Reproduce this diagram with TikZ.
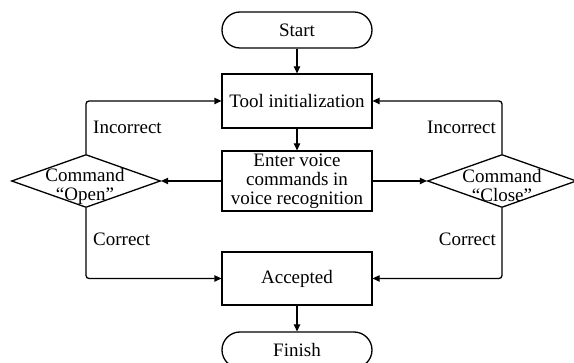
\documentclass[tikz,border=0pt]{standalone}
\usepackage{fontspec}
\setmainfont{Liberation Serif}
\usetikzlibrary{shapes.geometric,arrows.meta}
\begin{document}
\begin{tikzpicture}[x=1pt,y=-1pt,
  every node/.style={font=\fontsize{19}{19}\selectfont},
  box/.style={draw,line width=1.3pt,minimum width=150pt,inner sep=0pt,align=center},
  term/.style={box,rounded corners=18pt,minimum height=36pt},
  dia/.style={draw,diamond,line width=1.3pt,minimum width=149pt,minimum height=53pt,inner sep=0pt},
  dtext/.style={align=center,inner sep=0pt},
  lbl/.style={inner sep=0pt},
  conn/.style={line width=1.3pt,-{Triangle[length=7pt,width=6.5pt]}},
  loop/.style={conn,rounded corners=3pt}]
\useasboundingbox (0,0) rectangle (574,363);
\node[term] (start) at (297,30) {Start};
\node[box,minimum height=54pt] (tool) at (297,101) {Tool initialization};
\node[box,minimum height=60pt] (enter) at (297,181) {Enter voice\\commands in\\voice recognition};
\node[box,minimum height=53pt] (acc) at (297,278.5) {Accepted};
\node[term] (finish) at (297,350) {Finish};
\node[dia] (open) at (86,181) {};
\node[dia] (close) at (502,181) {};
\node[dtext] (opentxt) at (85,186) {Command\\“Open”};
\node[dtext] (closetxt) at (502,186) {Command\\“Close”};
\node[lbl,anchor=west] (inc1) at (93,127) {Incorrect};
\node[lbl,anchor=east] (inc2) at (496,127) {Incorrect};
\node[lbl,anchor=west] (cor1) at (93,239) {Correct};
\node[lbl,anchor=east] (cor2) at (496,239) {Correct};
\draw[conn] (start) -- (tool);
\draw[conn] (tool) -- (enter);
\draw[conn] (enter) -- (open);
\draw[conn] (enter) -- (close);
\draw[conn] (acc) -- (finish);
\draw[loop] (open.north) |- (tool.west);
\draw[loop] (open.south) |- (acc.west);
\draw[loop] (close.north) |- (tool.east);
\draw[loop] (close.south) |- (acc.east);
\end{tikzpicture}
\end{document}
